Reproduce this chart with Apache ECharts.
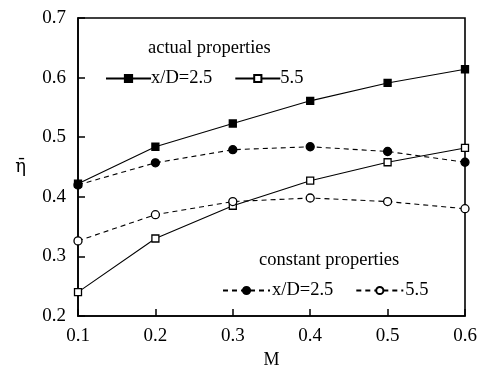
<!DOCTYPE html>
<html><head><meta charset="utf-8">
<script src="https://cdn.jsdelivr.net/npm/echarts@6/dist/echarts.min.js"></script>
<style>html,body{margin:0;padding:0;background:#fff}#c{width:482px;height:365px}</style>
</head><body><div id="c"></div>
<script>
var M = [0.1, 0.2, 0.3, 0.4, 0.5, 0.6];
var actual25 = [0.422, 0.484, 0.523, 0.561, 0.591, 0.614];
var actual55 = [0.240, 0.330, 0.385, 0.427, 0.458, 0.482];
var const25 = [0.420, 0.457, 0.479, 0.484, 0.476, 0.458];
var const55 = [0.326, 0.370, 0.392, 0.398, 0.392, 0.380];
var yTicks = [0.2, 0.3, 0.4, 0.5, 0.6, 0.7];
var xTicks = [0.1, 0.2, 0.3, 0.4, 0.5, 0.6];

function pairs(v){ return M.map(function(m,i){ return [m, v[i]]; }); }
var F = '"Liberation Serif", "DejaVu Serif", serif';
var labelMap = {'a25':'x/D=2.5','a55':'5.5','c25':'x/D=2.5','c55':'5.5'};

function mk(name, data, sym, filled, dashed){
  return {
    name: name, type: 'line', data: pairs(data),
    symbol: sym, symbolSize: sym === 'rect' ? 7 : 8,
    itemStyle: {color: filled ? '#000' : '#fff', borderColor: '#000', borderWidth: 1.3},
    lineStyle: {color: '#000', width: 1.1, type: dashed ? [5,4] : 'solid'},
    z: 3
  };
}

var chart = echarts.init(document.getElementById('c'));
chart.setOption({
  animation: false,
  backgroundColor: '#fff',
  grid: {left: 78, right: 17, top: 18, bottom: 49, show: true, borderColor: '#000', borderWidth: 1.6,
         containLabel: false, outerBoundsMode: 'none'},
  title: [
    {text: 'actual properties', left: 143, top: 34, textStyle: {fontFamily: F, fontSize: 18.5, fontWeight: 'normal', color: '#000'}},
    {text: 'constant properties', left: 254, top: 246, textStyle: {fontFamily: F, fontSize: 18.5, fontWeight: 'normal', color: '#000'}}
  ],
  legend: [
    {data: ['a25','a55'], left: 100, top: 64, itemWidth: 45, itemHeight: 9, itemGap: 22,
     formatter: function(n){ return labelMap[n]; },
     textStyle: {fontFamily: F, fontSize: 18.5, color: '#000', padding: [0,0,0,-5]}},
    {data: ['c25','c55'], left: 217, top: 276, itemWidth: 47, itemHeight: 9, itemGap: 22,
     formatter: function(n){ return labelMap[n]; },
     textStyle: {fontFamily: F, fontSize: 18.5, color: '#000', padding: [0,0,0,-3]}}
  ],
  xAxis: {
    type: 'value', min: xTicks[0], max: xTicks[xTicks.length-1], interval: 0.1,
    name: 'M', nameLocation: 'middle', nameGap: 30,
    nameTextStyle: {fontFamily: F, fontSize: 18, color: '#000'},
    axisLine: {show: true, lineStyle: {color: '#000', width: 1.6}},
    axisTick: {show: true, inside: true, length: 7, lineStyle: {color: '#000', width: 1.5}},
    splitLine: {show: false},
    axisLabel: {fontFamily: F, fontSize: 19, color: '#000', margin: 11,
      formatter: function(v){ return v.toFixed(1); }}
  },
  yAxis: {
    type: 'value', min: yTicks[0], max: yTicks[yTicks.length-1], interval: 0.1,
    name: '\u03B7\u0304', nameLocation: 'middle', nameGap: 52, nameRotate: 0,
    nameTextStyle: {fontFamily: '"DejaVu Serif", serif', fontSize: 18, color: '#000'},
    axisLine: {show: true, lineStyle: {color: '#000', width: 1.6}},
    axisTick: {show: true, inside: true, length: 7, lineStyle: {color: '#000', width: 1.5}},
    splitLine: {show: false},
    axisLabel: {fontFamily: F, fontSize: 19, color: '#000', margin: 12,
      formatter: function(v){ return v.toFixed(1); }}
  },
  series: [
    mk('a25', actual25, 'rect', true, false),
    mk('a55', actual55, 'rect', false, false),
    mk('c25', const25, 'circle', true, true),
    mk('c55', const55, 'circle', false, true)
  ]
});
</script></body></html>
